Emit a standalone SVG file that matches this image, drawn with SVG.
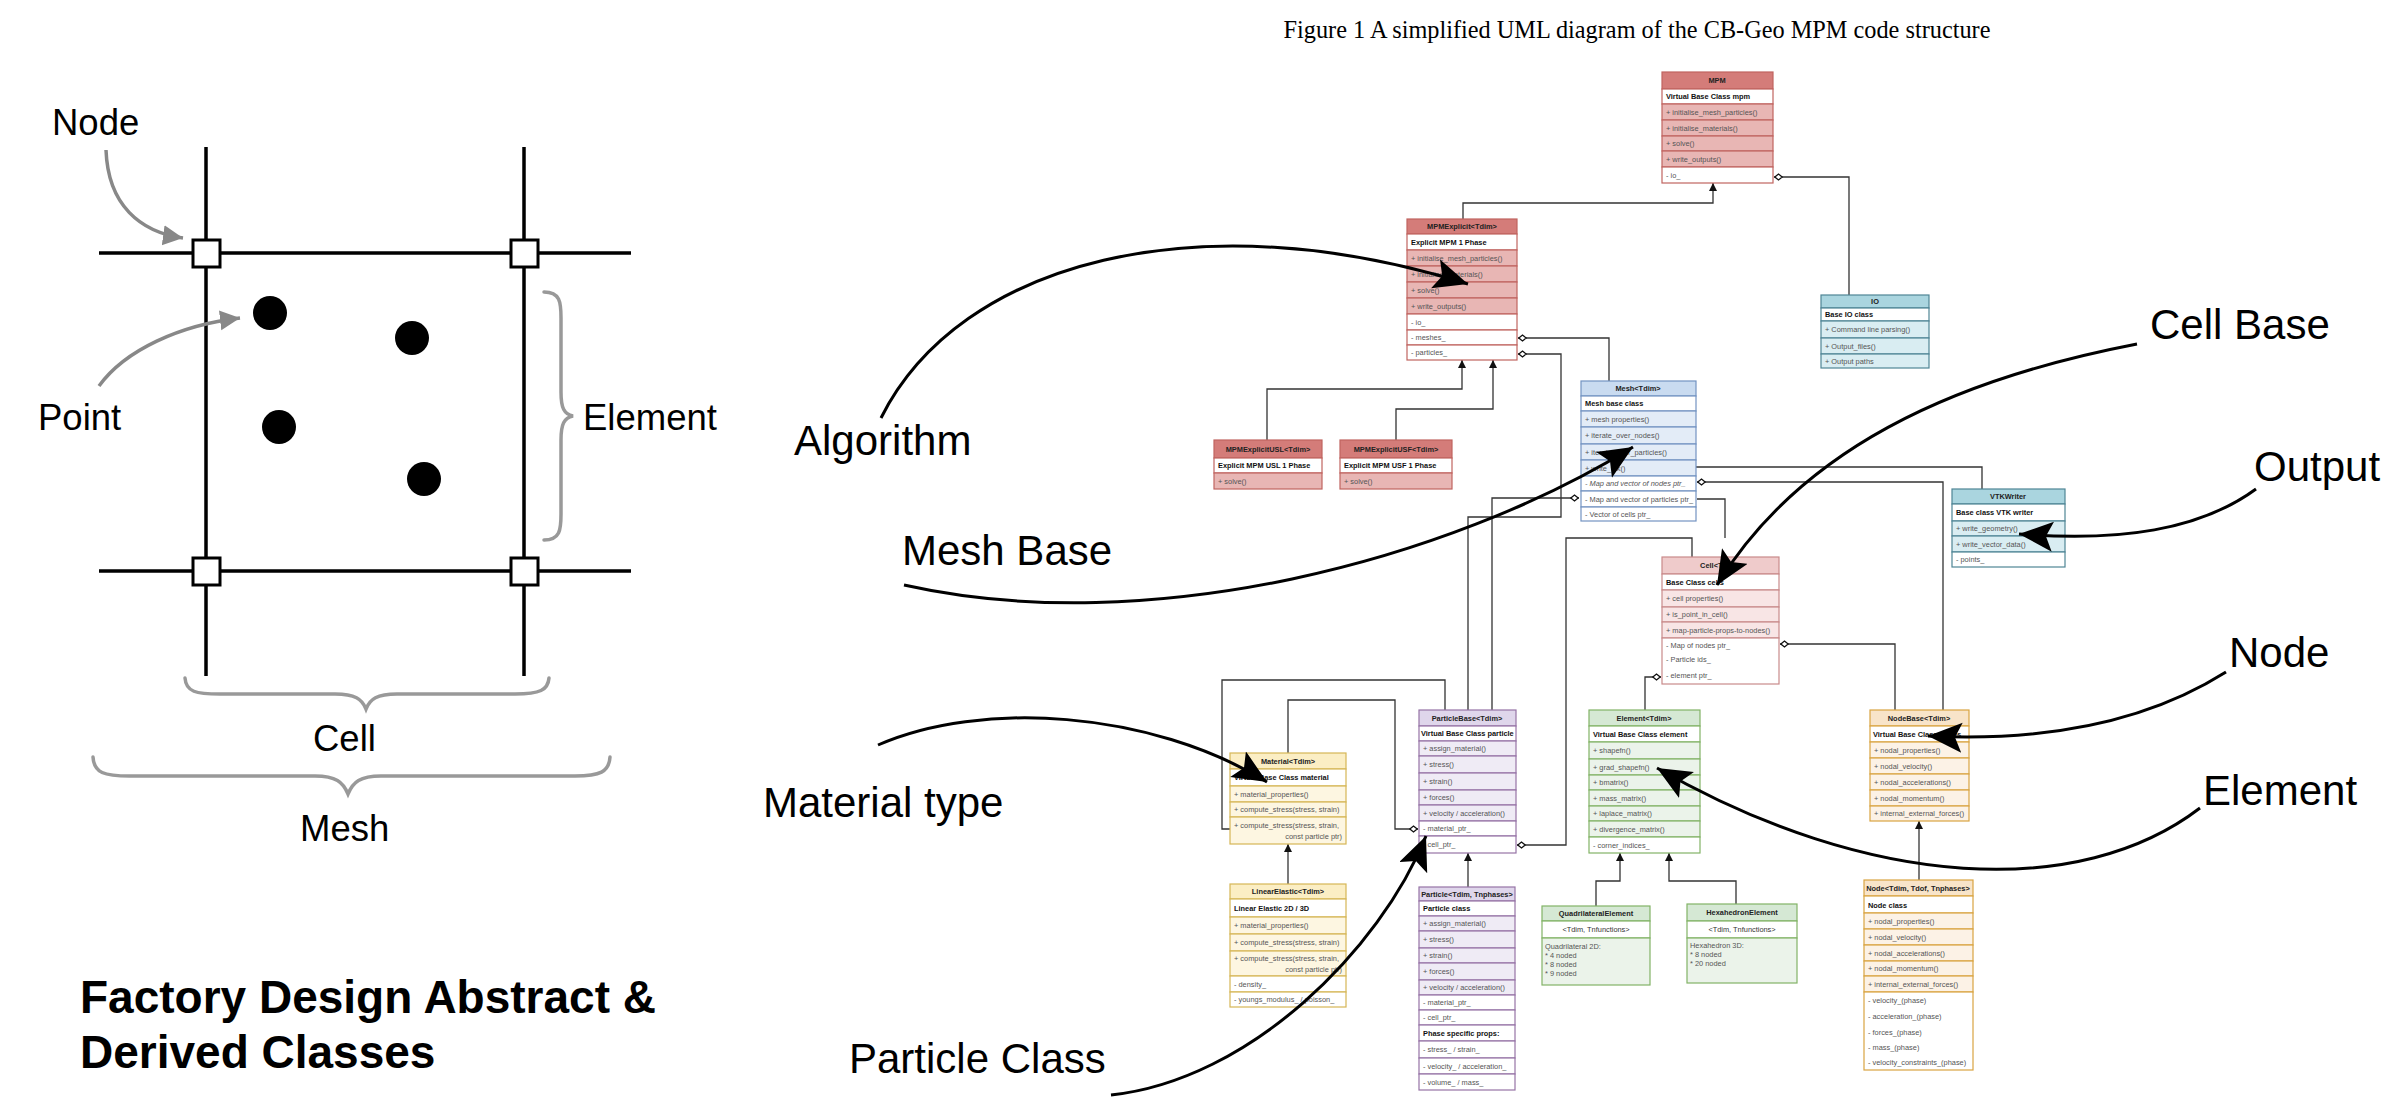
<svg xmlns="http://www.w3.org/2000/svg" width="2394" height="1110" viewBox="0 0 2394 1110">
<style>
text{font-family:"Liberation Sans",Arial,Helvetica,sans-serif}
.box rect{stroke-width:1.2}
.w{fill:#ffffff}
.red rect{stroke:#c06460}.red .h{fill:#d47c79}.red .m{fill:#e8b6b4}
.io rect{stroke:#4f8595}.io .h{fill:#aad5df}.io .m{fill:#d9edf2}
.mesh rect{stroke:#7393c2}.mesh .h{fill:#c9dbf0}.mesh .m{fill:#e3ecf7}
.cell rect{stroke:#c98a8a}.cell .h{fill:#efcbcb}.cell .m{fill:#f8e5e5}
.mat rect{stroke:#d6b656}.mat .h{fill:#fbeec4}.mat .m{fill:#fdf6e1}
.par rect{stroke:#9673a6}.par .h{fill:#dfd6eb}.par .m{fill:#efebf5}
.ele rect{stroke:#82b366}.ele .h{fill:#d5e8d4}.ele .m{fill:#ebf3ea}
.nod rect{stroke:#d9a441}.nod .h{fill:#f8e4c9}.nod .m{fill:#fcf2e6}
.ht{font-size:7.4px;font-weight:bold;text-anchor:middle;fill:#222}
.tt{font-size:7.4px;font-weight:bold;fill:#111}
.mt{font-size:7.4px;fill:#555}
.ct{font-size:7.4px;fill:#333;text-anchor:middle}
.con{fill:none;stroke:#333;stroke-width:1.3}
.ann{fill:none;stroke:#000;stroke-width:3}
.lbl{font-size:42px;fill:#000}
.lft{font-size:36.5px;fill:#000}
.grid{stroke:#000;stroke-width:3.5;fill:none}
.sq{fill:#fff;stroke:#000;stroke-width:3}
.brace{fill:none;stroke:#999;stroke-width:3.5;stroke-linecap:round}
.garr{fill:none;stroke:#888;stroke-width:3.5}
</style>
<defs>
<marker id="inh" markerUnits="userSpaceOnUse" markerWidth="10" markerHeight="10" refX="8" refY="4" orient="auto"><path d="M0,0 L8,4 L0,8 z" fill="#111"/></marker>
<marker id="dia" markerUnits="userSpaceOnUse" markerWidth="12" markerHeight="10" refX="0" refY="4" orient="auto"><path d="M0.8,4 L4.5,1 L8.2,4 L4.5,7 z" fill="#fff" stroke="#111" stroke-width="1.3"/></marker>
<marker id="big" markerUnits="userSpaceOnUse" markerWidth="40" markerHeight="34" refX="34" refY="15" orient="auto"><path d="M0,0 L34,15 L0,30 L7,15 z" fill="#000"/></marker>
<marker id="gar" markerUnits="userSpaceOnUse" markerWidth="26" markerHeight="24" refX="20" refY="10" orient="auto"><path d="M0,0 L20,10 L0,20 z" fill="#888"/></marker>
</defs>
<rect width="2394" height="1110" fill="#fff"/>

<!-- Left figure -->
<g id="mesh-figure">
<path class="grid" d="M206 147 V676 M524 147 V676 M99 253 H631 M99 571 H631"/>
<rect class="sq" x="193" y="240" width="27" height="27"/>
<rect class="sq" x="511" y="240" width="27" height="27"/>
<rect class="sq" x="193" y="558" width="27" height="27"/>
<rect class="sq" x="511" y="558" width="27" height="27"/>
<circle cx="270" cy="313" r="17"/>
<circle cx="412" cy="338" r="17"/>
<circle cx="279" cy="427" r="17"/>
<circle cx="424" cy="479" r="17"/>
<path class="brace" d="M544 292 C560 292 561 302 561 318 L561 392 C561 408 564 414 573 416 C564 418 561 424 561 440 L561 514 C561 530 560 540 544 540"/>
<path class="brace" d="M185 678 C186 692 196 694 220 694 L335 694 C355 694 362 699 366 709 C370 699 377 694 397 694 L515 694 C540 694 548 690 549 678"/>
<path class="brace" d="M93 757 C94 773 104 776 130 776 L315 776 C336 776 343 782 348 794 C353 782 360 776 381 776 L575 776 C600 776 609 772 610 757"/>
<path class="garr" d="M106 150 C108 205 140 232 183 238" marker-end="url(#gar)"/>
<path class="garr" d="M99 386 C125 350 180 325 240 318" marker-end="url(#gar)"/>
<text class="lft" x="52" y="135">Node</text>
<text class="lft" x="38" y="430">Point</text>
<text class="lft" x="583" y="430">Element</text>
<text class="lft" x="313" y="751">Cell</text>
<text class="lft" x="300" y="841">Mesh</text>
<text x="80" y="1013" font-size="46" font-weight="bold">Factory Design Abstract &amp;</text>
<text x="80" y="1068" font-size="46" font-weight="bold">Derived Classes</text>
</g>

<text x="1637" y="38" font-size="24.3" text-anchor="middle" style="font-family:'Liberation Serif','Times New Roman',serif">Figure 1 A simplified UML diagram of the CB-Geo MPM code structure</text>

<!-- Connectors -->
<g id="connectors">
<path class="con" d="M1463 219 V203 H1713 V183" marker-end="url(#inh)"/>
<path class="con" d="M1267 440 V389 H1462 V360" marker-end="url(#inh)"/>
<path class="con" d="M1396 440 V409 H1493 V360" marker-end="url(#inh)"/>
<path class="con" d="M1774 177 H1849 V295" marker-start="url(#dia)"/>
<path class="con" d="M1518 338 H1609 V381" marker-start="url(#dia)"/>
<path class="con" d="M1518 354 H1561 V517 H1468 V710" marker-start="url(#dia)"/>
<path class="con" d="M1579 498 H1492 V710" marker-start="url(#dia)"/>
<path class="con" d="M1697 482 H1943 V710" marker-start="url(#dia)"/>
<path class="con" d="M1696 467 H1982 V489"/>
<path class="con" d="M1697 499 H1725 V538"/>
<path class="con" d="M1780 644 H1895 V710" marker-start="url(#dia)"/>
<path class="con" d="M1661 677 H1645 V710" marker-start="url(#dia)"/>
<path class="con" d="M1517 845 H1566 V538 H1692 V557" marker-start="url(#dia)"/>
<path class="con" d="M1445 710 V680 H1222 V829 H1230"/>
<path class="con" d="M1418 829 H1395 V700 H1288 V753" marker-start="url(#dia)"/>
<path class="con" d="M1288 884 V844" marker-end="url(#inh)"/>
<path class="con" d="M1468 887 V853" marker-end="url(#inh)"/>
<path class="con" d="M1596 906 V881 H1620 V853" marker-end="url(#inh)"/>
<path class="con" d="M1736 904 V881 H1669 V853" marker-end="url(#inh)"/>
<path class="con" d="M1919 880 V821" marker-end="url(#inh)"/>
</g>

<!-- MPM -->
<g id="MPM" class="box red">
<rect class="h" x="1662" y="72" width="111" height="17"/><text class="ht" x="1717" y="83">MPM</text>
<rect class="w" x="1662" y="89" width="111" height="15"/><text class="tt" x="1666" y="99">Virtual Base Class mpm</text>
<rect class="m" x="1662" y="104" width="111" height="16"/><text class="mt" x="1666" y="115">+ initialise_mesh_particles()</text>
<rect class="m" x="1662" y="120" width="111" height="16"/><text class="mt" x="1666" y="131">+ initialise_materials()</text>
<rect class="m" x="1662" y="136" width="111" height="15"/><text class="mt" x="1666" y="146">+ solve()</text>
<rect class="m" x="1662" y="151" width="111" height="16"/><text class="mt" x="1666" y="162">+ write_outputs()</text>
<rect class="w" x="1662" y="167" width="111" height="16"/><text class="mt" x="1666" y="178">- io_</text>
</g>

<g id="MPMExplicit" class="box red">
<rect class="h" x="1407" y="219" width="110" height="15"/><text class="ht" x="1462" y="229">MPMExplicit&lt;Tdim&gt;</text>
<rect class="w" x="1407" y="234" width="110" height="16"/><text class="tt" x="1411" y="245">Explicit MPM 1 Phase</text>
<rect class="m" x="1407" y="250" width="110" height="16"/><text class="mt" x="1411" y="261">+ initialise_mesh_particles()</text>
<rect class="m" x="1407" y="266" width="110" height="16"/><text class="mt" x="1411" y="277">+ initialise_materials()</text>
<rect class="m" x="1407" y="282" width="110" height="16"/><text class="mt" x="1411" y="293">+ solve()</text>
<rect class="m" x="1407" y="298" width="110" height="16"/><text class="mt" x="1411" y="309">+ write_outputs()</text>
<rect class="w" x="1407" y="314" width="110" height="16"/><text class="mt" x="1411" y="325">- io_</text>
<rect class="w" x="1407" y="330" width="110" height="15"/><text class="mt" x="1411" y="340">- meshes_</text>
<rect class="w" x="1407" y="345" width="110" height="15"/><text class="mt" x="1411" y="355">- particles_</text>
</g>

<g id="IO" class="box io">
<rect class="h" x="1821" y="295" width="108" height="13"/><text class="ht" x="1875" y="304">IO</text>
<rect class="w" x="1821" y="308" width="108" height="13"/><text class="tt" x="1825" y="317">Base IO class</text>
<rect class="m" x="1821" y="321" width="108" height="17"/><text class="mt" x="1825" y="332">+ Command line parsing()</text>
<rect class="m" x="1821" y="338" width="108" height="16"/><text class="mt" x="1825" y="349">+ Output_files()</text>
<rect class="m" x="1821" y="354" width="108" height="14"/><text class="mt" x="1825" y="364">+ Output paths</text>
</g>

<g id="Mesh" class="box mesh">
<rect class="h" x="1581" y="381" width="115" height="15"/><text class="ht" x="1638" y="391">Mesh&lt;Tdim&gt;</text>
<rect class="w" x="1581" y="396" width="115" height="15"/><text class="tt" x="1585" y="406">Mesh base class</text>
<rect class="m" x="1581" y="411" width="115" height="16"/><text class="mt" x="1585" y="422">+ mesh properties()</text>
<rect class="m" x="1581" y="427" width="115" height="17"/><text class="mt" x="1585" y="438">+ iterate_over_nodes()</text>
<rect class="m" x="1581" y="444" width="115" height="16"/><text class="mt" x="1585" y="455">+ iterate_over_particles()</text>
<rect class="m" x="1581" y="460" width="115" height="16"/><text class="mt" x="1585" y="471">+ write_vtk()</text>
<rect class="w" x="1581" y="476" width="115" height="15"/><text class="mt" x="1585" y="486" font-style="italic">- Map and vector of nodes ptr_</text>
<rect class="w" x="1581" y="491" width="115" height="16"/><text class="mt" x="1585" y="502">- Map and vector of particles ptr_</text>
<rect class="w" x="1581" y="507" width="115" height="14"/><text class="mt" x="1585" y="517">- Vector of cells ptr_</text>
</g>

<g id="MPMExplicitUSL" class="box red">
<rect class="h" x="1214" y="440" width="108" height="18"/><text class="ht" x="1268" y="452">MPMExplicitUSL&lt;Tdim&gt;</text>
<rect class="w" x="1214" y="458" width="108" height="15"/><text class="tt" x="1218" y="468">Explicit MPM USL 1 Phase</text>
<rect class="m" x="1214" y="473" width="108" height="16"/><text class="mt" x="1218" y="484">+ solve()</text>
</g>

<g id="MPMExplicitUSF" class="box red">
<rect class="h" x="1340" y="440" width="112" height="18"/><text class="ht" x="1396" y="452">MPMExplicitUSF&lt;Tdim&gt;</text>
<rect class="w" x="1340" y="458" width="112" height="15"/><text class="tt" x="1344" y="468">Explicit MPM USF 1 Phase</text>
<rect class="m" x="1340" y="473" width="112" height="16"/><text class="mt" x="1344" y="484">+ solve()</text>
</g>

<g id="VTKWriter" class="box io">
<rect class="h" x="1952" y="489" width="113" height="15"/><text class="ht" x="2008" y="499">VTKWriter</text>
<rect class="w" x="1952" y="504" width="113" height="17"/><text class="tt" x="1956" y="515">Base class VTK writer</text>
<rect class="m" x="1952" y="521" width="113" height="15"/><text class="mt" x="1956" y="531">+ write_geometry()</text>
<rect class="m" x="1952" y="536" width="113" height="16"/><text class="mt" x="1956" y="547">+ write_vector_data()</text>
<rect class="w" x="1952" y="552" width="113" height="15"/><text class="mt" x="1956" y="562">- points_</text>
</g>

<g id="Cell" class="box cell">
<rect class="h" x="1662" y="557" width="117" height="17"/><text class="ht" x="1720" y="568">Cell&lt;Tdim&gt;</text>
<rect class="w" x="1662" y="574" width="117" height="16"/><text class="tt" x="1666" y="585">Base Class cells</text>
<rect class="m" x="1662" y="590" width="117" height="17"/><text class="mt" x="1666" y="601">+ cell properties()</text>
<rect class="m" x="1662" y="607" width="117" height="15"/><text class="mt" x="1666" y="617">+ is_point_in_cell()</text>
<rect class="m" x="1662" y="622" width="117" height="16"/><text class="mt" x="1666" y="633">+ map-particle-props-to-nodes()</text>
<rect class="w" x="1662" y="638" width="117" height="46"/>
<text class="mt" x="1666" y="648">- Map of nodes ptr_</text>
<text class="mt" x="1666" y="662">- Particle ids_</text>
<text class="mt" x="1666" y="678">- element ptr_</text>
</g>

<g id="Material" class="box mat">
<rect class="h" x="1230" y="753" width="116" height="16"/><text class="ht" x="1288" y="764">Material&lt;Tdim&gt;</text>
<rect class="w" x="1230" y="769" width="116" height="17"/><text class="tt" x="1234" y="780">Virtual Base Class material</text>
<rect class="m" x="1230" y="786" width="116" height="16"/><text class="mt" x="1234" y="797">+ material_properties()</text>
<rect class="m" x="1230" y="802" width="116" height="15"/><text class="mt" x="1234" y="812">+ compute_stress(stress, strain)</text>
<rect class="m" x="1230" y="817" width="116" height="27"/><text class="mt" x="1234" y="828">+ compute_stress(stress, strain,</text><text class="mt" x="1342" y="839" text-anchor="end">const particle ptr)</text>
</g>

<g id="LinearElastic" class="box mat">
<rect class="h" x="1230" y="884" width="116" height="15"/><text class="ht" x="1288" y="894">LinearElastic&lt;Tdim&gt;</text>
<rect class="w" x="1230" y="899" width="116" height="18"/><text class="tt" x="1234" y="911">Linear Elastic 2D / 3D</text>
<rect class="m" x="1230" y="917" width="116" height="17"/><text class="mt" x="1234" y="928">+ material_properties()</text>
<rect class="m" x="1230" y="934" width="116" height="17"/><text class="mt" x="1234" y="945">+ compute_stress(stress, strain)</text>
<rect class="m" x="1230" y="951" width="116" height="25"/><text class="mt" x="1234" y="961">+ compute_stress(stress, strain,</text><text class="mt" x="1342" y="972" text-anchor="end">const particle ptr)</text>
<rect class="w" x="1230" y="976" width="116" height="16"/><text class="mt" x="1234" y="987">- density_</text>
<rect class="w" x="1230" y="992" width="116" height="15"/><text class="mt" x="1234" y="1002">- youngs_modulus_ / poisson_</text>
</g>

<g id="ParticleBase" class="box par">
<rect class="h" x="1419" y="710" width="97" height="16"/><text class="ht" x="1467" y="721">ParticleBase&lt;Tdim&gt;</text>
<rect class="w" x="1419" y="726" width="97" height="15"/><text class="tt" x="1421" y="736">Virtual Base Class particle</text>
<rect class="m" x="1419" y="741" width="97" height="15"/><text class="mt" x="1423" y="751">+ assign_material()</text>
<rect class="m" x="1419" y="756" width="97" height="17"/><text class="mt" x="1423" y="767">+ stress()</text>
<rect class="m" x="1419" y="773" width="97" height="17"/><text class="mt" x="1423" y="784">+ strain()</text>
<rect class="m" x="1419" y="790" width="97" height="15"/><text class="mt" x="1423" y="800">+ forces()</text>
<rect class="m" x="1419" y="805" width="97" height="16"/><text class="mt" x="1423" y="816">+ velocity / acceleration()</text>
<rect class="w" x="1419" y="821" width="97" height="15"/><text class="mt" x="1423" y="831">- material_ptr_</text>
<rect class="w" x="1419" y="836" width="97" height="17"/><text class="mt" x="1423" y="847">- cell_ptr_</text>
</g>

<g id="Particle" class="box par">
<rect class="h" x="1419" y="887" width="96" height="14"/><text class="ht" x="1467" y="897">Particle&lt;Tdim, Tnphases&gt;</text>
<rect class="w" x="1419" y="901" width="96" height="15"/><text class="tt" x="1423" y="911">Particle class</text>
<rect class="m" x="1419" y="916" width="96" height="15"/><text class="mt" x="1423" y="926">+ assign_material()</text>
<rect class="m" x="1419" y="931" width="96" height="17"/><text class="mt" x="1423" y="942">+ stress()</text>
<rect class="m" x="1419" y="948" width="96" height="15"/><text class="mt" x="1423" y="958">+ strain()</text>
<rect class="m" x="1419" y="963" width="96" height="17"/><text class="mt" x="1423" y="974">+ forces()</text>
<rect class="m" x="1419" y="980" width="96" height="15"/><text class="mt" x="1423" y="990">+ velocity / acceleration()</text>
<rect class="w" x="1419" y="995" width="96" height="15"/><text class="mt" x="1423" y="1005">- material_ptr_</text>
<rect class="w" x="1419" y="1010" width="96" height="15"/><text class="mt" x="1423" y="1020">- cell_ptr_</text>
<rect class="w" x="1419" y="1025" width="96" height="16"/><text class="tt" x="1423" y="1036">Phase specific props:</text>
<rect class="w" x="1419" y="1041" width="96" height="17"/><text class="mt" x="1423" y="1052">- stress_ / strain_</text>
<rect class="w" x="1419" y="1058" width="96" height="16"/><text class="mt" x="1423" y="1069">- velocity_ / acceleration_</text>
<rect class="w" x="1419" y="1074" width="96" height="16"/><text class="mt" x="1423" y="1085">- volume_ / mass_</text>
</g>

<g id="Element" class="box ele">
<rect class="h" x="1589" y="710" width="111" height="16"/><text class="ht" x="1644" y="721">Element&lt;Tdim&gt;</text>
<rect class="w" x="1589" y="726" width="111" height="16"/><text class="tt" x="1593" y="737">Virtual Base Class element</text>
<rect class="m" x="1589" y="742" width="111" height="17"/><text class="mt" x="1593" y="753">+ shapefn()</text>
<rect class="m" x="1589" y="759" width="111" height="16"/><text class="mt" x="1593" y="770">+ grad_shapefn()</text>
<rect class="m" x="1589" y="775" width="111" height="15"/><text class="mt" x="1593" y="785">+ bmatrix()</text>
<rect class="m" x="1589" y="790" width="111" height="16"/><text class="mt" x="1593" y="801">+ mass_matrix()</text>
<rect class="m" x="1589" y="806" width="111" height="15"/><text class="mt" x="1593" y="816">+ laplace_matrix()</text>
<rect class="m" x="1589" y="821" width="111" height="16"/><text class="mt" x="1593" y="832">+ divergence_matrix()</text>
<rect class="w" x="1589" y="837" width="111" height="16"/><text class="mt" x="1593" y="848">- corner_indices_</text>
</g>

<g id="QuadrilateralElement" class="box ele">
<rect class="h" x="1542" y="906" width="108" height="15"/><text class="ht" x="1596" y="916">QuadrilateralElement</text>
<rect class="w" x="1542" y="921" width="108" height="17"/><text class="ct" x="1596" y="932">&lt;Tdim, Tnfunctions&gt;</text>
<rect class="m" x="1542" y="938" width="108" height="47"/>
<text class="mt" x="1545" y="949">Quadrilateral 2D:</text>
<text class="mt" x="1545" y="958">* 4 noded</text>
<text class="mt" x="1545" y="967">* 8 noded</text>
<text class="mt" x="1545" y="976">* 9 noded</text>
</g>

<g id="HexahedronElement" class="box ele">
<rect class="h" x="1687" y="904" width="110" height="17"/><text class="ht" x="1742" y="915">HexahedronElement</text>
<rect class="w" x="1687" y="921" width="110" height="17"/><text class="ct" x="1742" y="932">&lt;Tdim, Tnfunctions&gt;</text>
<rect class="m" x="1687" y="938" width="110" height="45"/>
<text class="mt" x="1690" y="948">Hexahedron 3D:</text>
<text class="mt" x="1690" y="957">* 8 noded</text>
<text class="mt" x="1690" y="966">* 20 noded</text>
</g>

<g id="NodeBase" class="box nod">
<rect class="h" x="1870" y="710" width="99" height="16"/><text class="ht" x="1919" y="721">NodeBase&lt;Tdim&gt;</text>
<rect class="w" x="1870" y="726" width="99" height="16"/><text class="tt" x="1873" y="737">Virtual Base Class nodes</text>
<rect class="m" x="1870" y="742" width="99" height="16"/><text class="mt" x="1874" y="753">+ nodal_properties()</text>
<rect class="m" x="1870" y="758" width="99" height="16"/><text class="mt" x="1874" y="769">+ nodal_velocity()</text>
<rect class="m" x="1870" y="774" width="99" height="16"/><text class="mt" x="1874" y="785">+ nodal_accelerations()</text>
<rect class="m" x="1870" y="790" width="99" height="16"/><text class="mt" x="1874" y="801">+ nodal_momentum()</text>
<rect class="m" x="1870" y="806" width="99" height="15"/><text class="mt" x="1874" y="816">+ internal_external_forces()</text>
</g>

<g id="Node" class="box nod">
<rect class="h" x="1864" y="880" width="109" height="16"/><text class="ht" x="1918" y="891">Node&lt;Tdim, Tdof, Tnphases&gt;</text>
<rect class="w" x="1864" y="896" width="109" height="17"/><text class="tt" x="1868" y="908">Node class</text>
<rect class="m" x="1864" y="913" width="109" height="16"/><text class="mt" x="1868" y="924">+ nodal_properties()</text>
<rect class="m" x="1864" y="929" width="109" height="16"/><text class="mt" x="1868" y="940">+ nodal_velocity()</text>
<rect class="m" x="1864" y="945" width="109" height="16"/><text class="mt" x="1868" y="956">+ nodal_accelerations()</text>
<rect class="m" x="1864" y="961" width="109" height="15"/><text class="mt" x="1868" y="971">+ nodal_momentum()</text>
<rect class="m" x="1864" y="976" width="109" height="16"/><text class="mt" x="1868" y="987">+ internal_external_forces()</text>
<rect class="w" x="1864" y="992" width="109" height="78"/>
<text class="mt" x="1868" y="1003">- velocity_(phase)</text>
<text class="mt" x="1868" y="1019">- acceleration_(phase)</text>
<text class="mt" x="1868" y="1035">- forces_(phase)</text>
<text class="mt" x="1868" y="1050">- mass_(phase)</text>
<text class="mt" x="1868" y="1065">- velocity_constraints_(phase)</text>
</g>

<!-- Annotations -->
<g id="annotations">
<path class="ann" d="M881 418 C960 260 1200 200 1468 284" marker-end="url(#big)"/>
<path class="ann" d="M904 585 C1150 640 1450 560 1633 447" marker-end="url(#big)"/>
<path class="ann" d="M2137 344 C1950 380 1800 450 1717 585" marker-end="url(#big)"/>
<path class="ann" d="M2256 489 C2200 530 2120 542 2019 534" marker-end="url(#big)"/>
<path class="ann" d="M2226 672 C2150 720 2050 742 1928 736" marker-end="url(#big)"/>
<path class="ann" d="M2200 808 C2080 900 1870 890 1657 768" marker-end="url(#big)"/>
<path class="ann" d="M878 745 C980 700 1150 710 1267 782" marker-end="url(#big)"/>
<path class="ann" d="M1111 1095 C1250 1080 1380 950 1426 836" marker-end="url(#big)"/>
<text class="lbl" x="794" y="455">Algorithm</text>
<text class="lbl" x="902" y="565">Mesh Base</text>
<text class="lbl" x="2150" y="339">Cell Base</text>
<text class="lbl" x="2254" y="481">Output</text>
<text class="lbl" x="2229" y="667">Node</text>
<text class="lbl" x="2203" y="805">Element</text>
<text class="lbl" x="763" y="817">Material type</text>
<text class="lbl" x="849" y="1073">Particle Class</text>
</g>
</svg>
